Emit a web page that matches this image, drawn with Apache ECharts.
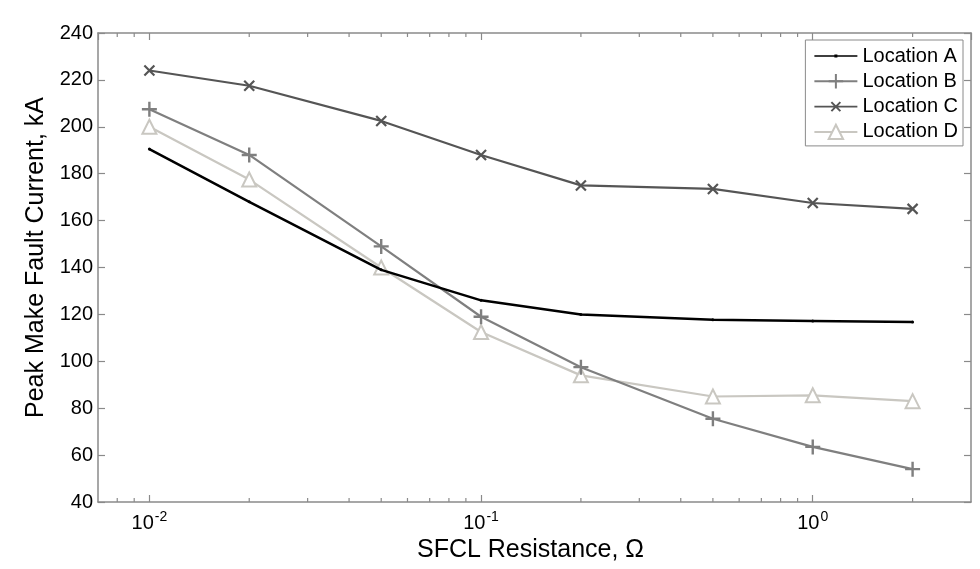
<!DOCTYPE html>
<html><head><meta charset="utf-8">
<script src="https://cdn.jsdelivr.net/npm/echarts@6/dist/echarts.min.js"></script>
<style>html,body{margin:0;padding:0;background:#fff}#c{width:980px;height:569px}</style>
</head><body><div id="c"></div>
<script>
const resistance = [0.01, 0.02, 0.05, 0.1, 0.2, 0.5, 1, 2];
const locationA = [190.5, 168, 139, 126, 120, 117.7, 117.2, 116.8];
const locationB = [207.5, 188, 149, 119, 97.5, 75.5, 63.5, 54];
const locationC = [224, 217.5, 202.5, 188, 175, 173.5, 167.5, 165];
const locationD = [200, 177.5, 140, 112.5, 94, 85, 85.5, 83];
const seriesNames = ['Location A', 'Location B', 'Location C', 'Location D'];
const minorTickValues = [0.008, 0.009, 0.02, 0.03, 0.04, 0.05, 0.06, 0.07, 0.08, 0.09,
  0.2, 0.3, 0.4, 0.5, 0.6, 0.7, 0.8, 0.9, 2];
const xMin = 0.007, xMax = 3, yMin = 40, yMax = 240, yStep = 20;

const FONT = 'Liberation Sans';
const AXC = '#8a8a8a';
const chart = echarts.init(document.getElementById('c'));
const pair = (xs, ys) => xs.map((x, i) => [x, ys[i]]);
const plusPath = 'path://M0,5 L10,5 M5,0 L5,10';
const crossPath = 'path://M0,0 L10,10 M10,0 L0,10';
const legendLineDot = 'path://M0,7.2 L43,7.2 L43,8.8 L0,8.8 Z M20,6.5 L23,6.5 L23,9.5 L20,9.5 Z';
const legendLineCross = 'path://M0,8.1 L43,8.1 L43,9.9 L0,9.9 Z ' +
  'M16.3,5.2 L17.7,3.8 L26.7,12.8 L25.3,14.2 Z ' +
  'M16.3,12.8 L25.3,3.8 L26.7,5.2 L17.7,14.2 Z';

function xAxisCommon(pos, show) {
  return {
    type: 'log', logBase: 10, min: xMin, max: xMax, position: pos,
    axisLine: {show: true, lineStyle: {color: AXC, width: 1.5}},
    axisTick: {show: true, inside: true, length: 7, lineStyle: {color: AXC, width: 1.2}},
    splitLine: {show: false},
    axisLabel: {show: show, margin: 8, fontFamily: FONT, fontSize: 20, color: '#000',
      showMinLabel: false, showMaxLabel: false,
      formatter: function (v) {
        const e = Math.log10(v);
        if (Math.abs(e - Math.round(e)) > 1e-6) return '';
        return '10{sup|' + Math.round(e) + '}';
      },
      rich: {sup: {fontFamily: FONT, fontSize: 14, color: '#000', verticalAlign: 'top', padding: [0, 0, 12, 1]}}
    }
  };
}
function yAxisCommon(pos, show) {
  return {
    type: 'value', min: yMin, max: yMax, interval: yStep, position: pos,
    axisLine: {show: true, lineStyle: {color: AXC, width: 1.5}},
    axisTick: {show: true, inside: true, length: 7, lineStyle: {color: AXC, width: 1.2}},
    splitLine: {show: false},
    axisLabel: {show: show, margin: 5, fontFamily: FONT, fontSize: 20, color: '#000'}
  };
}

const xb = xAxisCommon('bottom', true);
xb.name = 'SFCL Resistance, \u03A9';
xb.nameLocation = 'middle'; xb.nameGap = 33;
xb.nameTextStyle = {fontFamily: FONT, fontSize: 25, color: '#000', padding: [0, 8, 0, 0]};
const xt = xAxisCommon('top', false);
const yl = yAxisCommon('left', true);
yl.name = 'Peak Make Fault Current, kA';
yl.nameLocation = 'middle'; yl.nameGap = 46;
yl.nameTextStyle = {fontFamily: FONT, fontSize: 25, color: '#000', padding: [0, 0, 0, 20]};
const yr = yAxisCommon('right', false);

const minorTicks = {
  type: 'custom', xAxisIndex: 0, yAxisIndex: 0, silent: true, z: 1,
  data: minorTickValues.map(v => [v, yMin]),
  renderItem: function (params, api) {
    const v = api.value(0);
    const b = api.coord([v, yMin]);
    const t = api.coord([v, yMax]);
    const st = {stroke: AXC, lineWidth: 1.2};
    return {type: 'group', children: [
      {type: 'line', shape: {x1: b[0], y1: b[1], x2: b[0], y2: b[1] - 4}, style: st},
      {type: 'line', shape: {x1: t[0], y1: t[1], x2: t[0], y2: t[1] + 4}, style: st}
    ]};
  }
};

chart.setOption({
  animation: false,
  backgroundColor: '#fff',
  grid: {left: 98, right: 9, top: 33, bottom: 67, containLabel: false},
  xAxis: [xb, xt],
  yAxis: [yl, yr],
  legend: {
    right: 17, top: 40, orient: 'vertical', itemGap: 5.3, itemWidth: 43, itemHeight: 18,
    backgroundColor: '#fff', borderColor: '#8a8a8a', borderWidth: 1, borderRadius: 0,
    padding: [6, 5, 4, 8],
    textStyle: {fontFamily: FONT, fontSize: 20, lineHeight: 18, color: '#000'},
    data: [
      {name: seriesNames[0], icon: legendLineDot, itemStyle: {borderWidth: 0}},
      {name: seriesNames[1]},
      {name: seriesNames[2], icon: legendLineCross, itemStyle: {borderWidth: 0, color: '#555555'}},
      {name: seriesNames[3]}
    ]
  },
  series: [
    minorTicks,
    {name: seriesNames[0], type: 'line', data: pair(resistance, locationA), z: 5,
     symbol: 'circle', symbolSize: 3, color: '#000',
     lineStyle: {color: '#000', width: 2.5}, itemStyle: {color: '#000', borderWidth: 0}},
    {name: seriesNames[1], type: 'line', data: pair(resistance, locationB), z: 4,
     symbol: plusPath, symbolSize: 15, color: '#7f7f7f',
     lineStyle: {color: '#7f7f7f', width: 2.2}, itemStyle: {color: '#7f7f7f', borderColor: '#7f7f7f', borderWidth: 2.4}},
    {name: seriesNames[2], type: 'line', data: pair(resistance, locationC), z: 3,
     symbol: crossPath, symbolSize: 10, color: '#555555',
     lineStyle: {color: '#555555', width: 2.2}, itemStyle: {color: '#555555', borderColor: '#555555', borderWidth: 2.2}},
    {name: seriesNames[3], type: 'line', data: pair(resistance, locationD), z: 2,
     symbol: 'emptyTriangle', symbolSize: 14, color: '#c9c7c1',
     lineStyle: {color: '#c9c7c1', width: 2.2}, itemStyle: {color: '#c9c7c1', borderColor: '#c9c7c1', borderWidth: 2.2}}
  ]
});
</script></body></html>
